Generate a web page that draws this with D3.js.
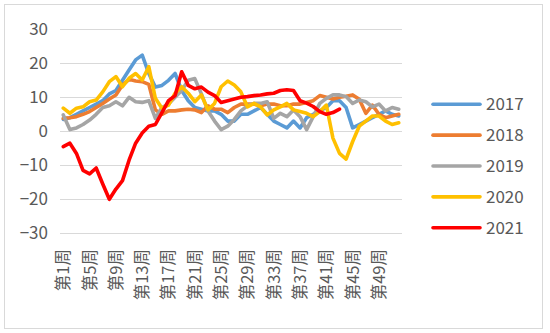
<!DOCTYPE html>
<html><head><meta charset="utf-8">
<script src="https://cdn.jsdelivr.net/npm/d3@7"></script>
<style>body{margin:0;background:#fff}svg{display:block}</style>
</head><body>
<script>
const weeks = d3.range(1, 53).map(i => "第" + i + "周");
const seriesNames = ["2017", "2018", "2019", "2020", "2021"];
const colors = ["#5B9BD5", "#ED7D31", "#A5A5A5", "#FFC000", "#FF0000"];
const yTicks = [-30, -20, -10, 0, 10, 20, 30];

const s2017 = [3.5,4,5,6,7,8,9,11,12,15,18,21,22.4,17,13,13.5,15,17,12,9,7,6.5,6,6,5,3,3,5,5,6,7,5,3,2,1,3,1,4,5,6,7,9,9,7,1,2,3,4,5,6,5,4.5];
const s2018 = [3.8,4,4.3,5,5.8,7,8.2,9.5,10.7,13.6,15.3,14.8,14.6,13.8,6.3,5,6,6,6.3,6.5,6.3,5.5,7.5,6.5,6.5,5.5,7,8,8,8,7.5,8,8,7.5,7.5,8,8,8.5,9,10.5,10,9.5,10,10.3,10.7,9.4,5.3,7.7,5,4,4.5,5];
const s2019 = [4.8,0.5,1,2,3.3,5,7,7.5,8.7,7.5,10,8.7,8.5,9,3.8,7,8,10,12,15,15.5,11,6,3,0.5,1.5,3.5,6,7.5,8.2,8.2,8.7,3.8,5.3,4.3,6.3,4.3,0.5,4.3,8.2,9.7,10.7,10.7,10.2,8.2,9.2,8.7,7.2,8,6,7,6.5];
const s2020 = [6.8,5.3,6.8,7.2,8.7,9.2,11.6,14.6,16.1,13.1,15.6,17,15.1,19,9.7,6.8,7.7,11.2,13.1,11.2,8.7,10.7,6.3,8.2,13.1,14.8,13.6,11.6,7.2,8.2,7.2,4.8,6.3,7.2,8.2,6.3,5.8,5.3,4.3,5.8,7.7,-2,-6.5,-8.2,-3,1.5,3,4.5,4.5,3,2,2.5];
const s2021 = [-4.5,-3.5,-6.5,-11.5,-12.5,-10.8,-15.5,-20,-17,-14.5,-8.5,-3.5,-0.5,1.5,2,5.5,9,10.5,17.5,13.5,12.5,13,11.5,10.5,8.5,9,9.5,10,10.2,10.5,10.7,11,11.2,12,12.2,12,9,8.3,7.3,5.8,5,5.5,6.5];
const allSeries = [s2017, s2018, s2019, s2020, s2021];

const W = 550, H = 333;
const svg = d3.select("body").append("svg").attr("width", W).attr("height", H);
const font = "'Noto Sans CJK SC', 'Liberation Sans', sans-serif";
const textColor = "#595959";

svg.append("rect").attr("x", 4.5).attr("y", 4.5).attr("width", 538).attr("height", 324)
  .attr("fill", "#fff").attr("stroke", "#D9D9D9").attr("stroke-width", 1);

const x = d3.scaleBand().domain(weeks).range([60, 402]);
const y = d3.scaleLinear().domain([-30, 30]).range([233.3, 29.3]);

// gridlines
svg.append("g").selectAll("line").data(yTicks).join("line")
  .attr("x1", 60).attr("x2", 402)
  .attr("y1", d => Math.round(y(d)) + 0.5).attr("y2", d => Math.round(y(d)) + 0.5)
  .attr("stroke", "#D9D9D9").attr("stroke-width", 1);

// y axis
const yAxis = svg.append("g").attr("transform", "translate(48,0)")
  .call(d3.axisLeft(y).tickValues(yTicks).tickSize(0).tickPadding(0));
yAxis.select(".domain").remove();
yAxis.selectAll("text").attr("font-family", font).attr("font-size", 17).attr("fill", textColor);

// x axis labels
const xAxis = svg.append("g").attr("transform", "translate(0,249)")
  .call(d3.axisBottom(x).tickValues(weeks.filter((d, i) => i % 4 === 0)).tickSize(0).tickPadding(0));
xAxis.select(".domain").remove();
xAxis.selectAll("text")
  .attr("font-family", font).attr("font-size", 16.5).attr("fill", textColor)
  .attr("transform", "rotate(-90)").attr("text-anchor", "end")
  .attr("x", 0).attr("y", 0).attr("dy", "0.36em");

// lines
const line = d3.line().x((d, i) => x(weeks[i]) + x.bandwidth() / 2).y(d => y(d));
svg.append("g").selectAll("path").data(allSeries).join("path")
  .attr("d", d => line(d))
  .attr("fill", "none")
  .attr("stroke", (d, i) => colors[i])
  .attr("stroke-width", 3.6)
  .attr("stroke-linejoin", "round")
  .attr("stroke-linecap", "round");

// legend
const lg = svg.append("g").selectAll("g").data(seriesNames).join("g")
  .attr("transform", (d, i) => `translate(0,${104.3 + i * 30.85})`);
lg.append("line").attr("x1", 433).attr("x2", 480).attr("y1", 0).attr("y2", 0)
  .attr("stroke", (d, i) => colors[i]).attr("stroke-width", 3.6).attr("stroke-linecap", "round");
lg.append("text").attr("x", 486).attr("y", 0).attr("dy", "0.36em")
  .attr("font-family", font).attr("font-size", 17).attr("fill", textColor).text(d => d);
</script>
</body></html>
